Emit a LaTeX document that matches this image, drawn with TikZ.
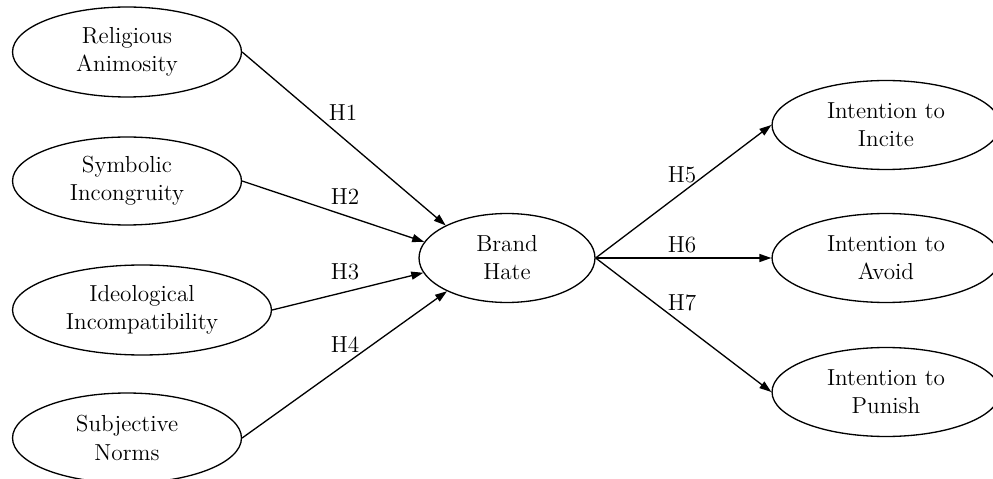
\documentclass[tikz,border=0pt]{standalone}
\usetikzlibrary{arrows.meta,shapes.geometric}
\begin{document}
\begin{tikzpicture}[x=0.02cm,y=-0.02cm,
  construct/.style={draw, ellipse, line width=0.75pt, inner sep=0pt, align=center,
    font=\fontsize{13.2}{16}\selectfont},
  small/.style={construct, minimum width=4.58cm, minimum height=1.8cm},
  link/.style={line width=0.75pt, -{Triangle[length=0.24cm,width=0.16cm]}},
  hyp/.style={font=\fontsize{13.2}{16}\selectfont, inner sep=0pt}]
\useasboundingbox[fill=white] (0,0) rectangle (993,479);
\node[small] (ra) at (127,52) {Religious\\Animosity};
\node[small, minimum height=1.76cm] (si) at (127,181) {Symbolic\\Incongruity};
\node[construct, minimum width=5.18cm, minimum height=1.8cm] (ii) at (142,310) {Ideological\\Incompatibility};
\node[small] (sn) at (127,438) {Subjective\\Norms};
\node[construct, minimum width=3.52cm, minimum height=1.78cm] (bh) at (507,258) {Brand\\Hate};
\node[small, minimum width=4.56cm, minimum height=1.78cm] (ic) at (886,125) {Intention to\\Incite};
\node[small, minimum width=4.56cm, minimum height=1.78cm] (av) at (886,258) {Intention to\\Avoid};
\node[small, minimum width=4.56cm, minimum height=1.78cm] (pu) at (886,392) {Intention to\\Punish};
\draw[link] (ra.east) -- (bh.152);
\draw[link] (si.east) -- (bh.169);
\draw[link] (ii.east) -- (bh.190);
\draw[link] (sn.east) -- (bh.209);
\draw[link] (bh.east) -- (ic.west);
\draw[link] (bh.east) -- (av.west);
\draw[link] (bh.east) -- (pu.west);
\node[hyp] (h1) at (343,113) {H1};
\node[hyp] (h2) at (345,197) {H2};
\node[hyp] (h3) at (345,272) {H3};
\node[hyp] (h4) at (345,345) {H4};
\node[hyp] (h5) at (682,175) {H5};
\node[hyp] (h6) at (682,245) {H6};
\node[hyp] (h7) at (682,303) {H7};
\end{tikzpicture}
\end{document}
